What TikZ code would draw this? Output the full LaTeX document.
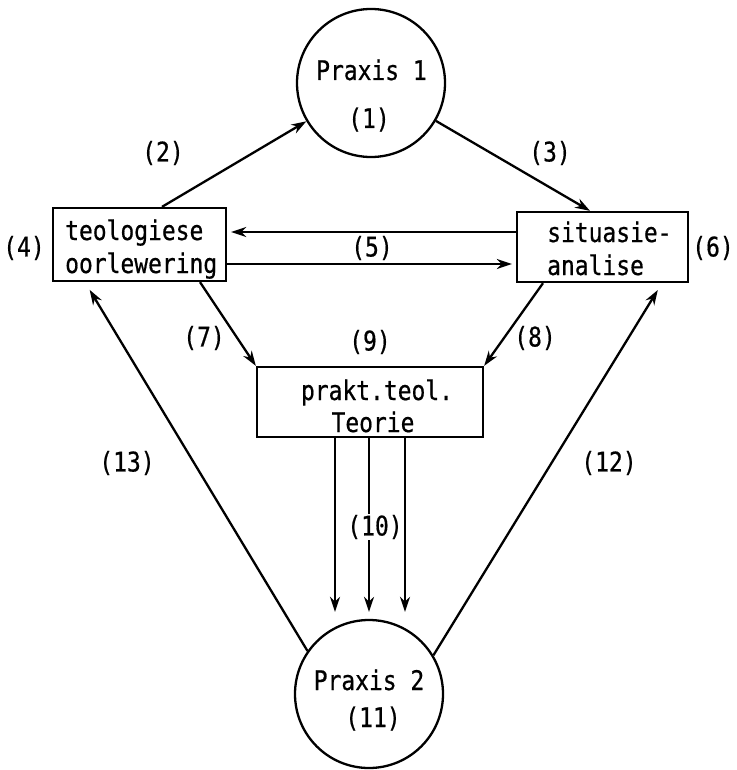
\documentclass[tikz,border=0pt]{standalone}
\usepackage{fontspec}
\newfontfamily\monofnt[FakeStretch=0.85,FakeBold=0.6]{DejaVu Sans Mono}
\usetikzlibrary{arrows.meta}
\tikzset{
  box/.style={draw, line width=2.3pt, inner sep=0pt},
  circ/.style={draw, circle, line width=2.3pt, minimum size=148pt, inner sep=0pt},
  txt/.style={font=\monofnt\fontsize{27}{33}\selectfont, inner sep=0pt},
  arr/.style={line width=2.3pt, -{Stealth[length=15pt,width=10pt]}},
}
\begin{document}
\begin{tikzpicture}[x=1pt,y=-1pt]
\useasboundingbox (0,0) rectangle (736,770);
% shapes
\node[circ] (p1) at (371,83) {};
\node[circ] (p2) at (369,694) {};
\node[box, minimum width=173pt, minimum height=73pt] (lbox) at (139.5,244.5) {};
\node[box, minimum width=171pt, minimum height=70pt] (rbox) at (602.5,247) {};
\node[box, minimum width=226pt, minimum height=70pt] (mbox) at (370,402) {};
% texts
\node[txt, anchor=base] (p1a) at (371.5,80) {Praxis 1};
\node[txt, anchor=base] (p1b) at (369,128) {(1)};
\node[txt, anchor=base] (p2a) at (369,690) {Praxis 2};
\node[txt, anchor=base] (p2b) at (373,727) {(11)};
\node[txt, anchor=base west] (l1) at (65,240) {teologiese};
\node[txt, anchor=base west] (l2) at (65,273) {oorlewering};
\node[txt, anchor=base west] (r1) at (547,242) {situasie-};
\node[txt, anchor=base west] (r2) at (547,275) {analise};
\node[txt, anchor=base] (m1) at (377,400) {prakt.teol.};
\node[txt, anchor=base] (m2) at (373,432) {Teorie};
% connectors
\draw[arr] ([xshift=22.5pt]lbox.north) -- (p1);
\draw[arr] (p1) -- ([xshift=-12.5pt]rbox.north);
\draw[arr, shorten >=4pt] ([yshift=15pt]rbox.west) -- ([yshift=15pt]rbox.west -| lbox.east);
\draw[arr, shorten >=4pt] ([yshift=-19.5pt]lbox.east) -- ([yshift=-19.5pt]lbox.east -| rbox.west);
\draw[arr] ([xshift=60.5pt]lbox.south) -- (mbox.north west);
\draw[arr] ([xshift=-59.5pt]rbox.south) -- (mbox.north east);
\foreach \dx in {-35,-1,35}{
  \draw[arr, shorten >=7pt] ([xshift=\dx pt]mbox.south) -- ([xshift=\dx pt]mbox.south |- p2.north);
}
\draw[arr, shorten >=9pt] (p2.145) -- ([xshift=-54.5pt]lbox.south);
\draw[arr, shorten >=8pt] (p2.31) -- ([xshift=59.5pt]rbox.south);
% labels
\node[txt] (n2) at (163,153) {(2)};
\node[txt] (n3) at (550,153) {(3)};
\node[txt] (n4) at (24,248) {(4)};
\node[txt] (n5) at (372,248) {(5)};
\node[txt] (n6) at (713,248) {(6)};
\node[txt] (n7) at (204,338) {(7)};
\node[txt] (n8) at (535,338) {(8)};
\node[txt] (n9) at (370,342) {(9)};
\node[txt, fill=white, inner sep=1pt] (n10) at (375,527) {(10)};
\node[txt] (n12) at (609,463) {(12)};
\node[txt] (n13) at (127,463) {(13)};
\end{tikzpicture}
\end{document}
